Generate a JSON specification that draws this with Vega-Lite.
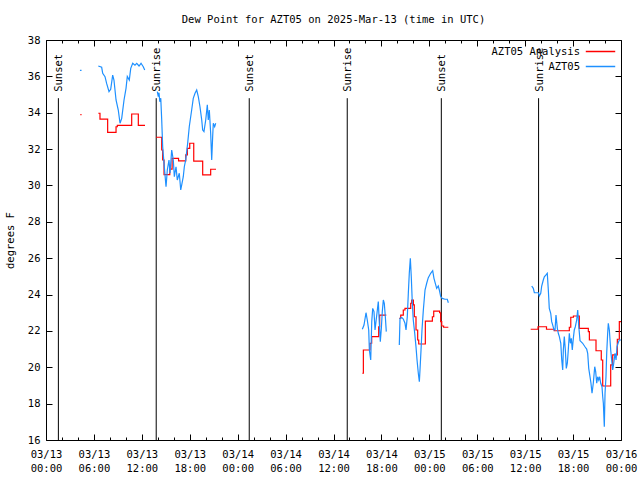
{
  "$schema": "https://vega.github.io/schema/vega-lite/v6.json",
  "width": 575,
  "height": 400,
  "autosize": {"type": "none"},
  "padding": {"left": 46, "top": 40, "right": 19, "bottom": 40},
  "background": "white",
  "title": {"text": "Dew Point for AZT05 on 2025-Mar-13 (time in UTC)", "font": "DejaVu Sans Mono", "fontSize": 10.5, "fontWeight": "normal", "color": "black", "anchor": "middle", "offset": 10},
  "config": {
    "view": {"stroke": "black", "strokeWidth": 1},
    "font": "DejaVu Sans Mono",
    "axis": {"grid": false, "domain": false, "tickColor": "black", "labelColor": "black", "titleColor": "black", "labelFont": "DejaVu Sans Mono", "titleFont": "DejaVu Sans Mono", "labelFontSize": 10.5, "titleFontSize": 10.5, "titleFontWeight": "normal"}
  },
  "datasets": {
    "events": [
      {"hour": 1.55, "event": "Sunset"},
      {"hour": 13.8, "event": "Sunrise"},
      {"hour": 25.45, "event": "Sunset"},
      {"hour": 37.72, "event": "Sunrise"},
      {"hour": 49.5, "event": "Sunset"},
      {"hour": 61.68, "event": "Sunrise"}
    ],
    "dew": [
      {"series": "AZT05 Analysis", "seg": 0, "hour": 4.3, "dewpoint": 33.9},
      {"series": "AZT05 Analysis", "seg": 0, "hour": 4.45, "dewpoint": 33.9},
      {"series": "AZT05 Analysis", "seg": 1, "hour": 6.55, "dewpoint": 33.97},
      {"series": "AZT05 Analysis", "seg": 1, "hour": 6.76, "dewpoint": 33.65},
      {"series": "AZT05 Analysis", "seg": 1, "hour": 7.72, "dewpoint": 32.92},
      {"series": "AZT05 Analysis", "seg": 1, "hour": 8.77, "dewpoint": 33.23},
      {"series": "AZT05 Analysis", "seg": 1, "hour": 8.93, "dewpoint": 33.3},
      {"series": "AZT05 Analysis", "seg": 1, "hour": 10.73, "dewpoint": 33.93},
      {"series": "AZT05 Analysis", "seg": 1, "hour": 11.56, "dewpoint": 33.3},
      {"series": "AZT05 Analysis", "seg": 1, "hour": 12.4, "dewpoint": 33.3},
      {"series": "AZT05 Analysis", "seg": 2, "hour": 13.77, "dewpoint": 32.65},
      {"series": "AZT05 Analysis", "seg": 2, "hour": 14.49, "dewpoint": 31.95},
      {"series": "AZT05 Analysis", "seg": 2, "hour": 14.61, "dewpoint": 31.4},
      {"series": "AZT05 Analysis", "seg": 2, "hour": 14.78, "dewpoint": 30.6},
      {"series": "AZT05 Analysis", "seg": 2, "hour": 15.5, "dewpoint": 30.9},
      {"series": "AZT05 Analysis", "seg": 2, "hour": 15.79, "dewpoint": 31.49},
      {"series": "AZT05 Analysis", "seg": 2, "hour": 16.6, "dewpoint": 31.35},
      {"series": "AZT05 Analysis", "seg": 2, "hour": 17.5, "dewpoint": 31.68},
      {"series": "AZT05 Analysis", "seg": 2, "hour": 17.7, "dewpoint": 32.04},
      {"series": "AZT05 Analysis", "seg": 2, "hour": 18.0, "dewpoint": 32.32},
      {"series": "AZT05 Analysis", "seg": 2, "hour": 18.5, "dewpoint": 31.34},
      {"series": "AZT05 Analysis", "seg": 2, "hour": 19.62, "dewpoint": 30.58},
      {"series": "AZT05 Analysis", "seg": 2, "hour": 20.62, "dewpoint": 30.89},
      {"series": "AZT05 Analysis", "seg": 2, "hour": 21.29, "dewpoint": 30.89},
      {"series": "AZT05 Analysis", "seg": 3, "hour": 39.61, "dewpoint": 19.67},
      {"series": "AZT05 Analysis", "seg": 3, "hour": 39.74, "dewpoint": 20.95},
      {"series": "AZT05 Analysis", "seg": 3, "hour": 40.57, "dewpoint": 21.32},
      {"series": "AZT05 Analysis", "seg": 3, "hour": 40.78, "dewpoint": 21.69},
      {"series": "AZT05 Analysis", "seg": 3, "hour": 41.66, "dewpoint": 22.23},
      {"series": "AZT05 Analysis", "seg": 3, "hour": 41.78, "dewpoint": 22.87},
      {"series": "AZT05 Analysis", "seg": 3, "hour": 42.61, "dewpoint": 22.87},
      {"series": "AZT05 Analysis", "seg": 4, "hour": 44.24, "dewpoint": 22.69},
      {"series": "AZT05 Analysis", "seg": 4, "hour": 44.42, "dewpoint": 22.87},
      {"series": "AZT05 Analysis", "seg": 4, "hour": 44.74, "dewpoint": 23.15},
      {"series": "AZT05 Analysis", "seg": 4, "hour": 44.95, "dewpoint": 23.24},
      {"series": "AZT05 Analysis", "seg": 4, "hour": 45.67, "dewpoint": 23.52},
      {"series": "AZT05 Analysis", "seg": 4, "hour": 45.79, "dewpoint": 23.7},
      {"series": "AZT05 Analysis", "seg": 4, "hour": 46.0, "dewpoint": 23.43},
      {"series": "AZT05 Analysis", "seg": 4, "hour": 46.12, "dewpoint": 22.78},
      {"series": "AZT05 Analysis", "seg": 4, "hour": 46.33, "dewpoint": 22.05},
      {"series": "AZT05 Analysis", "seg": 4, "hour": 46.54, "dewpoint": 21.5},
      {"series": "AZT05 Analysis", "seg": 4, "hour": 46.67, "dewpoint": 21.28},
      {"series": "AZT05 Analysis", "seg": 4, "hour": 47.5, "dewpoint": 22.54},
      {"series": "AZT05 Analysis", "seg": 4, "hour": 48.38, "dewpoint": 22.78},
      {"series": "AZT05 Analysis", "seg": 4, "hour": 48.55, "dewpoint": 23.09},
      {"series": "AZT05 Analysis", "seg": 4, "hour": 49.29, "dewpoint": 23.0},
      {"series": "AZT05 Analysis", "seg": 4, "hour": 49.42, "dewpoint": 22.51},
      {"series": "AZT05 Analysis", "seg": 4, "hour": 49.55, "dewpoint": 22.27},
      {"series": "AZT05 Analysis", "seg": 4, "hour": 49.79, "dewpoint": 22.2},
      {"series": "AZT05 Analysis", "seg": 4, "hour": 50.38, "dewpoint": 22.2},
      {"series": "AZT05 Analysis", "seg": 5, "hour": 60.69, "dewpoint": 22.09},
      {"series": "AZT05 Analysis", "seg": 5, "hour": 61.61, "dewpoint": 22.23},
      {"series": "AZT05 Analysis", "seg": 5, "hour": 62.67, "dewpoint": 22.09},
      {"series": "AZT05 Analysis", "seg": 5, "hour": 63.64, "dewpoint": 22.01},
      {"series": "AZT05 Analysis", "seg": 5, "hour": 65.53, "dewpoint": 22.2},
      {"series": "AZT05 Analysis", "seg": 5, "hour": 65.71, "dewpoint": 22.75},
      {"series": "AZT05 Analysis", "seg": 5, "hour": 66.04, "dewpoint": 22.82},
      {"series": "AZT05 Analysis", "seg": 5, "hour": 66.78, "dewpoint": 22.14},
      {"series": "AZT05 Analysis", "seg": 5, "hour": 67.91, "dewpoint": 21.96},
      {"series": "AZT05 Analysis", "seg": 5, "hour": 68.04, "dewpoint": 21.5},
      {"series": "AZT05 Analysis", "seg": 5, "hour": 68.87, "dewpoint": 20.91},
      {"series": "AZT05 Analysis", "seg": 5, "hour": 69.53, "dewpoint": 20.4},
      {"series": "AZT05 Analysis", "seg": 5, "hour": 69.71, "dewpoint": 18.97},
      {"series": "AZT05 Analysis", "seg": 5, "hour": 70.71, "dewpoint": 20.13},
      {"series": "AZT05 Analysis", "seg": 5, "hour": 70.96, "dewpoint": 20.68},
      {"series": "AZT05 Analysis", "seg": 5, "hour": 71.54, "dewpoint": 21.54},
      {"series": "AZT05 Analysis", "seg": 5, "hour": 71.79, "dewpoint": 22.51},
      {"series": "AZT05 Analysis", "seg": 5, "hour": 72.0, "dewpoint": 22.51},

      {"series": "AZT05", "seg": 0, "hour": 4.25, "dewpoint": 36.33},
      {"series": "AZT05", "seg": 0, "hour": 4.45, "dewpoint": 36.33},
      {"series": "AZT05", "seg": 1, "hour": 6.55, "dewpoint": 36.57},
      {"series": "AZT05", "seg": 1, "hour": 6.97, "dewpoint": 36.5},
      {"series": "AZT05", "seg": 1, "hour": 7.1, "dewpoint": 36.17},
      {"series": "AZT05", "seg": 1, "hour": 7.39, "dewpoint": 35.98},
      {"series": "AZT05", "seg": 1, "hour": 7.6, "dewpoint": 35.6},
      {"series": "AZT05", "seg": 1, "hour": 7.89, "dewpoint": 35.16},
      {"series": "AZT05", "seg": 1, "hour": 8.1, "dewpoint": 35.29},
      {"series": "AZT05", "seg": 1, "hour": 8.35, "dewpoint": 36.07},
      {"series": "AZT05", "seg": 1, "hour": 8.51, "dewpoint": 35.8},
      {"series": "AZT05", "seg": 1, "hour": 8.77, "dewpoint": 34.7},
      {"series": "AZT05", "seg": 1, "hour": 9.05, "dewpoint": 34.15},
      {"series": "AZT05", "seg": 1, "hour": 9.27, "dewpoint": 33.42},
      {"series": "AZT05", "seg": 1, "hour": 9.48, "dewpoint": 33.69},
      {"series": "AZT05", "seg": 1, "hour": 9.77, "dewpoint": 34.7},
      {"series": "AZT05", "seg": 1, "hour": 10.02, "dewpoint": 35.34},
      {"series": "AZT05", "seg": 1, "hour": 10.18, "dewpoint": 36.0},
      {"series": "AZT05", "seg": 1, "hour": 10.43, "dewpoint": 35.8},
      {"series": "AZT05", "seg": 1, "hour": 10.61, "dewpoint": 36.44},
      {"series": "AZT05", "seg": 1, "hour": 10.86, "dewpoint": 36.72},
      {"series": "AZT05", "seg": 1, "hour": 11.14, "dewpoint": 36.62},
      {"series": "AZT05", "seg": 1, "hour": 11.36, "dewpoint": 36.72},
      {"series": "AZT05", "seg": 1, "hour": 11.65, "dewpoint": 36.57},
      {"series": "AZT05", "seg": 1, "hour": 11.9, "dewpoint": 36.72},
      {"series": "AZT05", "seg": 1, "hour": 12.18, "dewpoint": 36.53},
      {"series": "AZT05", "seg": 1, "hour": 12.36, "dewpoint": 36.35},
      {"series": "AZT05", "seg": 2, "hour": 13.94, "dewpoint": 35.16},
      {"series": "AZT05", "seg": 2, "hour": 14.06, "dewpoint": 34.88},
      {"series": "AZT05", "seg": 2, "hour": 14.15, "dewpoint": 35.1},
      {"series": "AZT05", "seg": 2, "hour": 14.25, "dewpoint": 34.6},
      {"series": "AZT05", "seg": 2, "hour": 14.37, "dewpoint": 34.8},
      {"series": "AZT05", "seg": 2, "hour": 14.49, "dewpoint": 33.6},
      {"series": "AZT05", "seg": 2, "hour": 14.61, "dewpoint": 32.13},
      {"series": "AZT05", "seg": 2, "hour": 14.78, "dewpoint": 31.2},
      {"series": "AZT05", "seg": 2, "hour": 15.03, "dewpoint": 29.93},
      {"series": "AZT05", "seg": 2, "hour": 15.19, "dewpoint": 30.85},
      {"series": "AZT05", "seg": 2, "hour": 15.4, "dewpoint": 31.4},
      {"series": "AZT05", "seg": 2, "hour": 15.53, "dewpoint": 30.67},
      {"series": "AZT05", "seg": 2, "hour": 15.74, "dewpoint": 31.95},
      {"series": "AZT05", "seg": 2, "hour": 15.94, "dewpoint": 31.4},
      {"series": "AZT05", "seg": 2, "hour": 16.07, "dewpoint": 30.48},
      {"series": "AZT05", "seg": 2, "hour": 16.28, "dewpoint": 31.03},
      {"series": "AZT05", "seg": 2, "hour": 16.44, "dewpoint": 30.3},
      {"series": "AZT05", "seg": 2, "hour": 16.69, "dewpoint": 30.67},
      {"series": "AZT05", "seg": 2, "hour": 16.87, "dewpoint": 29.75},
      {"series": "AZT05", "seg": 2, "hour": 17.03, "dewpoint": 30.12},
      {"series": "AZT05", "seg": 2, "hour": 17.19, "dewpoint": 30.48},
      {"series": "AZT05", "seg": 2, "hour": 17.32, "dewpoint": 31.03},
      {"series": "AZT05", "seg": 2, "hour": 17.49, "dewpoint": 31.4},
      {"series": "AZT05", "seg": 2, "hour": 17.74, "dewpoint": 32.32},
      {"series": "AZT05", "seg": 2, "hour": 17.94, "dewpoint": 33.23},
      {"series": "AZT05", "seg": 2, "hour": 18.24, "dewpoint": 34.15},
      {"series": "AZT05", "seg": 2, "hour": 18.44, "dewpoint": 34.79},
      {"series": "AZT05", "seg": 2, "hour": 18.66, "dewpoint": 35.07},
      {"series": "AZT05", "seg": 2, "hour": 18.87, "dewpoint": 35.25},
      {"series": "AZT05", "seg": 2, "hour": 19.07, "dewpoint": 34.88},
      {"series": "AZT05", "seg": 2, "hour": 19.28, "dewpoint": 34.33},
      {"series": "AZT05", "seg": 2, "hour": 19.5, "dewpoint": 33.6},
      {"series": "AZT05", "seg": 2, "hour": 19.62, "dewpoint": 33.05},
      {"series": "AZT05", "seg": 2, "hour": 19.78, "dewpoint": 32.96},
      {"series": "AZT05", "seg": 2, "hour": 20.0, "dewpoint": 33.6},
      {"series": "AZT05", "seg": 2, "hour": 20.2, "dewpoint": 34.43},
      {"series": "AZT05", "seg": 2, "hour": 20.32, "dewpoint": 33.6},
      {"series": "AZT05", "seg": 2, "hour": 20.45, "dewpoint": 34.15},
      {"series": "AZT05", "seg": 2, "hour": 20.62, "dewpoint": 32.87},
      {"series": "AZT05", "seg": 2, "hour": 20.75, "dewpoint": 31.4},
      {"series": "AZT05", "seg": 2, "hour": 20.87, "dewpoint": 32.69},
      {"series": "AZT05", "seg": 2, "hour": 20.95, "dewpoint": 33.42},
      {"series": "AZT05", "seg": 2, "hour": 21.12, "dewpoint": 33.23},
      {"series": "AZT05", "seg": 2, "hour": 21.25, "dewpoint": 33.42},
      {"series": "AZT05", "seg": 3, "hour": 39.61, "dewpoint": 22.09},
      {"series": "AZT05", "seg": 3, "hour": 39.82, "dewpoint": 22.32},
      {"series": "AZT05", "seg": 3, "hour": 40.07, "dewpoint": 23.0},
      {"series": "AZT05", "seg": 3, "hour": 40.23, "dewpoint": 22.6},
      {"series": "AZT05", "seg": 3, "hour": 40.41, "dewpoint": 22.05},
      {"series": "AZT05", "seg": 3, "hour": 40.49, "dewpoint": 20.95},
      {"series": "AZT05", "seg": 3, "hour": 40.66, "dewpoint": 20.4},
      {"series": "AZT05", "seg": 3, "hour": 40.79, "dewpoint": 22.51},
      {"series": "AZT05", "seg": 3, "hour": 40.91, "dewpoint": 23.24},
      {"series": "AZT05", "seg": 3, "hour": 41.07, "dewpoint": 23.06},
      {"series": "AZT05", "seg": 3, "hour": 41.2, "dewpoint": 22.05},
      {"series": "AZT05", "seg": 3, "hour": 41.32, "dewpoint": 22.51},
      {"series": "AZT05", "seg": 3, "hour": 41.49, "dewpoint": 23.15},
      {"series": "AZT05", "seg": 3, "hour": 41.61, "dewpoint": 23.61},
      {"series": "AZT05", "seg": 3, "hour": 41.74, "dewpoint": 22.42},
      {"series": "AZT05", "seg": 3, "hour": 41.86, "dewpoint": 21.41},
      {"series": "AZT05", "seg": 3, "hour": 41.99, "dewpoint": 22.14},
      {"series": "AZT05", "seg": 3, "hour": 42.11, "dewpoint": 23.06},
      {"series": "AZT05", "seg": 3, "hour": 42.24, "dewpoint": 23.7},
      {"series": "AZT05", "seg": 3, "hour": 42.36, "dewpoint": 23.52},
      {"series": "AZT05", "seg": 3, "hour": 42.49, "dewpoint": 22.78},
      {"series": "AZT05", "seg": 3, "hour": 42.61, "dewpoint": 21.96},
      {"series": "AZT05", "seg": 4, "hour": 44.24, "dewpoint": 21.22},
      {"series": "AZT05", "seg": 4, "hour": 44.33, "dewpoint": 22.69},
      {"series": "AZT05", "seg": 4, "hour": 44.54, "dewpoint": 22.74},
      {"series": "AZT05", "seg": 4, "hour": 44.74, "dewpoint": 22.65},
      {"series": "AZT05", "seg": 4, "hour": 44.95, "dewpoint": 22.42},
      {"series": "AZT05", "seg": 4, "hour": 45.08, "dewpoint": 22.05},
      {"series": "AZT05", "seg": 4, "hour": 45.24, "dewpoint": 22.78},
      {"series": "AZT05", "seg": 4, "hour": 45.37, "dewpoint": 24.07},
      {"series": "AZT05", "seg": 4, "hour": 45.49, "dewpoint": 25.17},
      {"series": "AZT05", "seg": 4, "hour": 45.62, "dewpoint": 25.99},
      {"series": "AZT05", "seg": 4, "hour": 45.74, "dewpoint": 24.98},
      {"series": "AZT05", "seg": 4, "hour": 45.87, "dewpoint": 23.52},
      {"series": "AZT05", "seg": 4, "hour": 45.99, "dewpoint": 22.6},
      {"series": "AZT05", "seg": 4, "hour": 46.17, "dewpoint": 21.87},
      {"series": "AZT05", "seg": 4, "hour": 46.33, "dewpoint": 21.13},
      {"series": "AZT05", "seg": 4, "hour": 46.46, "dewpoint": 20.4},
      {"series": "AZT05", "seg": 4, "hour": 46.62, "dewpoint": 19.67},
      {"series": "AZT05", "seg": 4, "hour": 46.75, "dewpoint": 19.21},
      {"series": "AZT05", "seg": 4, "hour": 46.83, "dewpoint": 19.85},
      {"series": "AZT05", "seg": 4, "hour": 46.96, "dewpoint": 20.95},
      {"series": "AZT05", "seg": 4, "hour": 47.08, "dewpoint": 22.05},
      {"series": "AZT05", "seg": 4, "hour": 47.25, "dewpoint": 23.15},
      {"series": "AZT05", "seg": 4, "hour": 47.46, "dewpoint": 24.25},
      {"series": "AZT05", "seg": 4, "hour": 47.67, "dewpoint": 24.62},
      {"series": "AZT05", "seg": 4, "hour": 47.87, "dewpoint": 24.93},
      {"series": "AZT05", "seg": 4, "hour": 48.17, "dewpoint": 25.17},
      {"series": "AZT05", "seg": 4, "hour": 48.42, "dewpoint": 25.31},
      {"series": "AZT05", "seg": 4, "hour": 48.58, "dewpoint": 24.89},
      {"series": "AZT05", "seg": 4, "hour": 48.8, "dewpoint": 24.53},
      {"series": "AZT05", "seg": 4, "hour": 48.92, "dewpoint": 24.34},
      {"series": "AZT05", "seg": 4, "hour": 49.12, "dewpoint": 24.47},
      {"series": "AZT05", "seg": 4, "hour": 49.25, "dewpoint": 24.25},
      {"series": "AZT05", "seg": 4, "hour": 49.42, "dewpoint": 23.89},
      {"series": "AZT05", "seg": 4, "hour": 49.62, "dewpoint": 23.79},
      {"series": "AZT05", "seg": 4, "hour": 49.96, "dewpoint": 23.74},
      {"series": "AZT05", "seg": 4, "hour": 50.25, "dewpoint": 23.74},
      {"series": "AZT05", "seg": 4, "hour": 50.38, "dewpoint": 23.55},
      {"series": "AZT05", "seg": 5, "hour": 60.82, "dewpoint": 24.47},
      {"series": "AZT05", "seg": 5, "hour": 61.02, "dewpoint": 24.34},
      {"series": "AZT05", "seg": 5, "hour": 61.15, "dewpoint": 24.1},
      {"series": "AZT05", "seg": 5, "hour": 61.65, "dewpoint": 24.1},
      {"series": "AZT05", "seg": 5, "hour": 61.77, "dewpoint": 23.92},
      {"series": "AZT05", "seg": 5, "hour": 61.95, "dewpoint": 24.07},
      {"series": "AZT05", "seg": 5, "hour": 62.07, "dewpoint": 24.47},
      {"series": "AZT05", "seg": 5, "hour": 62.27, "dewpoint": 24.8},
      {"series": "AZT05", "seg": 5, "hour": 62.4, "dewpoint": 24.98},
      {"series": "AZT05", "seg": 5, "hour": 62.61, "dewpoint": 25.08},
      {"series": "AZT05", "seg": 5, "hour": 62.77, "dewpoint": 25.17},
      {"series": "AZT05", "seg": 5, "hour": 62.9, "dewpoint": 24.25},
      {"series": "AZT05", "seg": 5, "hour": 63.02, "dewpoint": 23.24},
      {"series": "AZT05", "seg": 5, "hour": 63.2, "dewpoint": 22.97},
      {"series": "AZT05", "seg": 5, "hour": 63.32, "dewpoint": 22.51},
      {"series": "AZT05", "seg": 5, "hour": 63.45, "dewpoint": 22.32},
      {"series": "AZT05", "seg": 5, "hour": 63.61, "dewpoint": 22.05},
      {"series": "AZT05", "seg": 5, "hour": 63.74, "dewpoint": 22.05},
      {"series": "AZT05", "seg": 5, "hour": 63.86, "dewpoint": 22.87},
      {"series": "AZT05", "seg": 5, "hour": 64.03, "dewpoint": 22.14},
      {"series": "AZT05", "seg": 5, "hour": 64.15, "dewpoint": 21.87},
      {"series": "AZT05", "seg": 5, "hour": 64.28, "dewpoint": 21.69},
      {"series": "AZT05", "seg": 5, "hour": 64.46, "dewpoint": 21.32},
      {"series": "AZT05", "seg": 5, "hour": 64.58, "dewpoint": 20.4},
      {"series": "AZT05", "seg": 5, "hour": 64.7, "dewpoint": 19.85},
      {"series": "AZT05", "seg": 5, "hour": 64.78, "dewpoint": 20.95},
      {"series": "AZT05", "seg": 5, "hour": 64.9, "dewpoint": 21.69},
      {"series": "AZT05", "seg": 5, "hour": 65.03, "dewpoint": 20.95},
      {"series": "AZT05", "seg": 5, "hour": 65.15, "dewpoint": 19.94},
      {"series": "AZT05", "seg": 5, "hour": 65.28, "dewpoint": 20.22},
      {"series": "AZT05", "seg": 5, "hour": 65.4, "dewpoint": 20.95},
      {"series": "AZT05", "seg": 5, "hour": 65.53, "dewpoint": 21.87},
      {"series": "AZT05", "seg": 5, "hour": 65.66, "dewpoint": 21.32},
      {"series": "AZT05", "seg": 5, "hour": 65.78, "dewpoint": 21.59},
      {"series": "AZT05", "seg": 5, "hour": 65.9, "dewpoint": 20.95},
      {"series": "AZT05", "seg": 5, "hour": 66.03, "dewpoint": 21.59},
      {"series": "AZT05", "seg": 5, "hour": 66.15, "dewpoint": 22.05},
      {"series": "AZT05", "seg": 5, "hour": 66.28, "dewpoint": 22.23},
      {"series": "AZT05", "seg": 5, "hour": 66.45, "dewpoint": 22.6},
      {"series": "AZT05", "seg": 5, "hour": 66.58, "dewpoint": 23.15},
      {"series": "AZT05", "seg": 5, "hour": 66.7, "dewpoint": 22.32},
      {"series": "AZT05", "seg": 5, "hour": 66.87, "dewpoint": 21.46},
      {"series": "AZT05", "seg": 5, "hour": 66.99, "dewpoint": 21.41},
      {"series": "AZT05", "seg": 5, "hour": 67.2, "dewpoint": 21.32},
      {"series": "AZT05", "seg": 5, "hour": 67.49, "dewpoint": 21.13},
      {"series": "AZT05", "seg": 5, "hour": 67.7, "dewpoint": 21.0},
      {"series": "AZT05", "seg": 5, "hour": 67.83, "dewpoint": 20.77},
      {"series": "AZT05", "seg": 5, "hour": 67.96, "dewpoint": 19.94},
      {"series": "AZT05", "seg": 5, "hour": 68.12, "dewpoint": 19.48},
      {"series": "AZT05", "seg": 5, "hour": 68.24, "dewpoint": 19.12},
      {"series": "AZT05", "seg": 5, "hour": 68.37, "dewpoint": 18.57},
      {"series": "AZT05", "seg": 5, "hour": 68.53, "dewpoint": 19.12},
      {"series": "AZT05", "seg": 5, "hour": 68.71, "dewpoint": 20.03},
      {"series": "AZT05", "seg": 5, "hour": 68.83, "dewpoint": 19.76},
      {"series": "AZT05", "seg": 5, "hour": 68.96, "dewpoint": 19.12},
      {"series": "AZT05", "seg": 5, "hour": 69.08, "dewpoint": 19.48},
      {"series": "AZT05", "seg": 5, "hour": 69.21, "dewpoint": 19.3},
      {"series": "AZT05", "seg": 5, "hour": 69.33, "dewpoint": 19.48},
      {"series": "AZT05", "seg": 5, "hour": 69.46, "dewpoint": 19.12},
      {"series": "AZT05", "seg": 5, "hour": 69.62, "dewpoint": 18.93},
      {"series": "AZT05", "seg": 5, "hour": 69.71, "dewpoint": 18.38},
      {"series": "AZT05", "seg": 5, "hour": 69.79, "dewpoint": 18.02},
      {"series": "AZT05", "seg": 5, "hour": 69.91, "dewpoint": 16.73},
      {"series": "AZT05", "seg": 5, "hour": 70.0, "dewpoint": 18.57},
      {"series": "AZT05", "seg": 5, "hour": 70.12, "dewpoint": 19.48},
      {"series": "AZT05", "seg": 5, "hour": 70.21, "dewpoint": 20.77},
      {"series": "AZT05", "seg": 5, "hour": 70.33, "dewpoint": 21.87},
      {"series": "AZT05", "seg": 5, "hour": 70.41, "dewpoint": 22.42},
      {"series": "AZT05", "seg": 5, "hour": 70.54, "dewpoint": 22.05},
      {"series": "AZT05", "seg": 5, "hour": 70.71, "dewpoint": 20.95},
      {"series": "AZT05", "seg": 5, "hour": 70.83, "dewpoint": 20.4},
      {"series": "AZT05", "seg": 5, "hour": 70.96, "dewpoint": 19.85},
      {"series": "AZT05", "seg": 5, "hour": 71.09, "dewpoint": 20.22},
      {"series": "AZT05", "seg": 5, "hour": 71.25, "dewpoint": 20.77},
      {"series": "AZT05", "seg": 5, "hour": 71.38, "dewpoint": 20.4},
      {"series": "AZT05", "seg": 5, "hour": 71.5, "dewpoint": 21.13},
      {"series": "AZT05", "seg": 5, "hour": 71.63, "dewpoint": 21.32},
      {"series": "AZT05", "seg": 5, "hour": 71.79, "dewpoint": 21.5},
      {"series": "AZT05", "seg": 5, "hour": 72.0, "dewpoint": 21.5}
    ]
  },
  "resolve": {"axis": {"x": "independent", "y": "independent"}},
  "layer": [
    {
      "data": {"name": "events"},
      "mark": {"type": "rule", "color": "black", "strokeWidth": 1},
      "encoding": {
        "x": {"field": "hour", "type": "quantitative", "scale": {"domain": [0, 72], "nice": false, "zero": false},
              "axis": {"orient": "top", "values": [0,2,4,6,8,10,12,14,16,18,20,22,24,26,28,30,32,34,36,38,40,42,44,46,48,50,52,54,56,58,60,62,64,66,68,70,72], "labels": false, "title": null, "tickSize": {"condition": {"test": "datum.value % 6 == 0", "value": -6}, "value": -3}}},
        "y": {"datum": 34.8, "type": "quantitative", "scale": {"domain": [16, 38], "nice": false, "zero": false},
              "axis": {"orient": "right", "values": [16,18,20,22,24,26,28,30,32,34,36,38], "labels": false, "title": null, "tickSize": -6}},
        "y2": {"datum": 16}
      }
    },
    {
      "data": {"name": "events"},
      "mark": {"type": "text", "angle": 270, "align": "left", "baseline": "middle", "font": "DejaVu Sans Mono", "fontSize": 10.5, "color": "black", "dy": 1},
      "encoding": {
        "x": {"field": "hour", "type": "quantitative", "axis": null},
        "y": {"datum": 35.15, "type": "quantitative", "axis": null},
        "text": {"field": "event"}
      }
    },
    {
      "data": {"name": "dew"},
      "transform": [{"filter": "datum.series == 'AZT05 Analysis'"}],
      "mark": {"type": "line", "interpolate": "step-after", "strokeWidth": 1.2},
      "encoding": {
        "x": {"field": "hour", "type": "quantitative",
              "axis": {"orient": "bottom", "values": [0,2,4,6,8,10,12,14,16,18,20,22,24,26,28,30,32,34,36,38,40,42,44,46,48,50,52,54,56,58,60,62,64,66,68,70,72], "title": null, "labelOverlap": false, "labelFlush": false, "labelPadding": 15, "labelLineHeight": 14, "labelExpr": "datum.value % 6 == 0 ? ['03/' + (13 + floor(datum.value / 24)), (datum.value % 24 < 10 ? '0' : '') + (datum.value % 24) + ':00'] : ''", "tickSize": {"condition": {"test": "datum.value % 6 == 0", "value": -6}, "value": -3}}},
        "y": {"field": "dewpoint", "type": "quantitative",
              "axis": {"orient": "left", "values": [16,18,20,22,24,26,28,30,32,34,36,38], "title": "degrees F", "titlePadding": 12, "labelPadding": 12, "tickSize": -6}},
        "color": {"field": "series", "type": "nominal", "scale": {"domain": ["AZT05 Analysis", "AZT05"], "range": ["#ff0000", "#1e90ff"]},
                  "legend": {"orient": "top-right", "title": null, "symbolType": "M-1.7,0H1.7", "symbolSize": 300, "symbolStrokeWidth": 1.5, "labelAlign": "right", "labelOffset": -30, "labelFont": "DejaVu Sans Mono", "labelFontSize": 10.5, "labelColor": "black", "offset": 2, "symbolOffset": -5, "rowPadding": -3}},
        "detail": {"field": "seg", "type": "nominal"}
      }
    },
    {
      "data": {"name": "dew"},
      "transform": [{"filter": "datum.series == 'AZT05'"}],
      "mark": {"type": "line", "strokeWidth": 1.2},
      "encoding": {
        "x": {"field": "hour", "type": "quantitative", "axis": null},
        "y": {"field": "dewpoint", "type": "quantitative", "axis": null},
        "color": {"field": "series", "type": "nominal"},
        "detail": {"field": "seg", "type": "nominal"}
      }
    }
  ]
}
